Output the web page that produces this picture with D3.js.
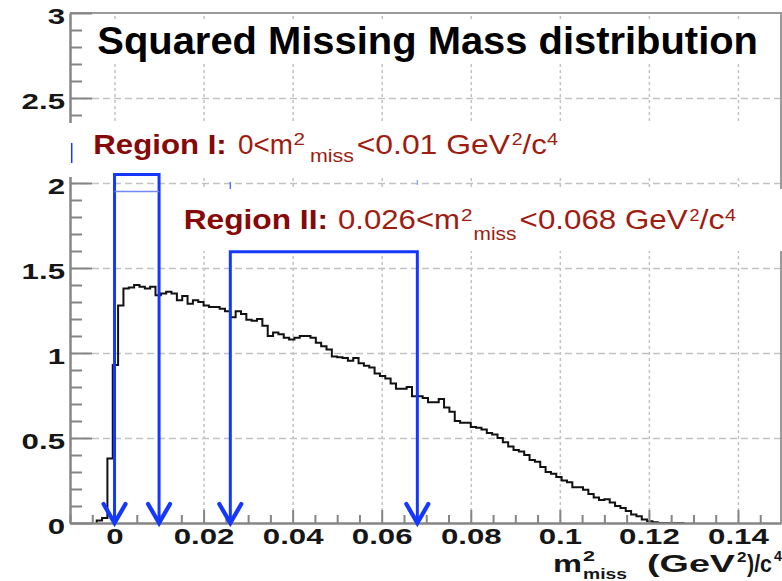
<!DOCTYPE html>
<html>
<head>
<meta charset="utf-8">
<script src="https://cdn.jsdelivr.net/npm/d3@7"></script>
<style>
  html, body { margin: 0; padding: 0; background: #fff; }
  svg { display: block; font-family: "Liberation Sans", Arial, Helvetica, sans-serif; }
</style>
</head>
<body>
<svg id="chart" width="782" height="581"></svg>
<script>
// Squared missing mass histogram (arbitrary normalisation)
const binStart = -0.004;   // GeV^2/c^4, low edge of the first filled bin
const binWidth = 0.0012;   // GeV^2/c^4
const counts = [
  0.015, 0.03, 0.38, 0.93, 1.28, 1.38, 1.385, 1.40, 1.39, 1.38,
  1.39, 1.34, 1.35, 1.36, 1.35, 1.31, 1.335, 1.29, 1.31, 1.30,
  1.28, 1.27, 1.27, 1.26, 1.245, 1.21, 1.245, 1.23, 1.195, 1.19,
  1.20, 1.16, 1.10, 1.12, 1.11, 1.09, 1.08, 1.09, 1.10, 1.10,
  1.09, 1.06, 1.04, 1.02, 0.98, 0.975, 0.97, 0.955, 0.97, 0.94,
  0.925, 0.915, 0.88, 0.865, 0.85, 0.82, 0.79, 0.79, 0.80, 0.745,
  0.745, 0.735, 0.71, 0.71, 0.73, 0.68, 0.655, 0.60, 0.59, 0.59,
  0.565, 0.56, 0.55, 0.53, 0.52, 0.50, 0.475, 0.45, 0.43, 0.42,
  0.40, 0.37, 0.36, 0.33, 0.30, 0.29, 0.27, 0.25, 0.24, 0.21,
  0.21, 0.195, 0.17, 0.15, 0.135, 0.14, 0.12, 0.10, 0.088, 0.07,
  0.05, 0.04, 0.02, 0.01, 0.004, 0, 0, 0, 0, 0
];

const xDomain = [-0.01, 0.15];
const yDomain = [0, 3];
const xMajorTicks = [0, 0.02, 0.04, 0.06, 0.08, 0.1, 0.12, 0.14];
const xTickLabels = ["0", "0.02", "0.04", "0.06", "0.08", "0.1", "0.12", "0.14"];
const yMajorTicks = [0, 0.5, 1, 1.5, 2, 2.5, 3];
const yTickLabels = ["0", "0.5", "1", "1.5", "2", "2.5", "3"];
const yGridValues = [0.5, 1, 1.5, 2, 2.5];

// selection windows
const regionI = [0, 0.01];
const regionITop = 2.05;
const regionIInner = 1.95;
const regionII = [0.026, 0.068];
const regionIITop = 1.595;

const titleText = "Squared Missing Mass distribution";

const svg = d3.select("#chart");
const x = d3.scaleLinear().domain(xDomain).range([70, 782.5]);
const y = d3.scaleLinear().domain(yDomain).range([523, 13]);
const frameRight = 781;

const axisGrey = "#858585";
const gridGrey = "#c2c2c2";
const blue = "#1438ff";
const darkRed = "#860808";
const red = "#9e1c10";
const ink = "#161616";

// ---- grid ----
svg.append("g")
  .attr("transform", `translate(0,${y(0)})`)
  .call(d3.axisBottom(x).tickValues(xMajorTicks).tickSize(-(y(0) - y(3))).tickFormat(""))
  .call(g => g.select(".domain").remove())
  .selectAll("line")
  .attr("stroke", gridGrey).attr("stroke-width", 1.5).attr("stroke-dasharray", "3,3");

svg.append("g")
  .attr("transform", `translate(${x(xDomain[0])},0)`)
  .call(d3.axisLeft(y).tickValues(yGridValues).tickSize(-(frameRight - x(xDomain[0]))).tickFormat(""))
  .call(g => g.select(".domain").remove())
  .selectAll("line")
  .attr("stroke", gridGrey).attr("stroke-width", 1.5).attr("stroke-dasharray", "7,4");

// ---- histogram ----
const pts = [[binStart, 0]];
counts.forEach((c, i) => pts.push([binStart + i * binWidth, c]));
pts.push([binStart + counts.length * binWidth, 0]);
svg.append("path")
  .datum(pts)
  .attr("fill", "none")
  .attr("stroke", "#111")
  .attr("stroke-width", 2)
  .attr("d", d3.line().x(d => x(d[0])).y(d => y(d[1])).curve(d3.curveStepAfter));

// ---- frame ----
svg.append("path")
  .attr("d", `M${x(xDomain[0])},${y(3)}H${frameRight}V${y(0)}`)
  .attr("fill", "none").attr("stroke", "#9a9a9a").attr("stroke-width", 2);

// ---- axes ----
const xMinor = d3.range(-0.01, 0.1501, 0.005).filter(v => !xMajorTicks.some(t => Math.abs(t - v) < 1e-9));
const yMinor = d3.range(0, 3.001, 0.1).filter(v => !yMajorTicks.some(t => Math.abs(t - v) < 1e-9));

function styleAxis(g) {
  g.select(".domain").attr("stroke", axisGrey).attr("stroke-width", 2);
  g.selectAll(".tick line").attr("stroke", axisGrey).attr("stroke-width", 2);
  g.selectAll("text")
    .attr("font-size", 22).attr("font-weight", "bold").attr("fill", ink)
    .attr("font-family", "'Liberation Sans', Arial, Helvetica, sans-serif");
}

const xAxisScale = x.copy().range([70, frameRight]).domain([xDomain[0], x.invert(frameRight)]);
svg.append("g")
  .attr("transform", `translate(0,${y(0)})`)
  .call(d3.axisBottom(xAxisScale).tickValues(xMinor.filter(v => x(v) <= frameRight)).tickSize(-8).tickSizeOuter(0).tickFormat(""))
  .call(styleAxis);
const gx = svg.append("g")
  .attr("transform", `translate(0,${y(0)})`)
  .call(d3.axisBottom(xAxisScale).tickValues(xMajorTicks).tickSize(-13).tickSizeOuter(0).tickPadding(5.5)
    .tickFormat((d, i) => xTickLabels[i]))
  .call(styleAxis);
gx.selectAll("text").attr("transform", "scale(1.42,1)");

svg.append("g")
  .attr("transform", `translate(${x(xDomain[0])},0)`)
  .call(d3.axisLeft(y).tickValues(yMinor).tickSize(-12).tickSizeOuter(0).tickFormat(""))
  .call(styleAxis);
const gy = svg.append("g")
  .attr("transform", `translate(${x(xDomain[0])},0)`)
  .call(d3.axisLeft(y).tickValues(yMajorTicks).tickSize(-22).tickSizeOuter(0).tickPadding(3.5)
    .tickFormat((d, i) => yTickLabels[i]))
  .call(styleAxis);
gy.selectAll("text").attr("transform", "translate(0,3) scale(1.42,1)");

// ---- white label panels ----
const panels = [
  [86, 22, 686, 40],
  [66, 123, 708, 54],
  [168, 189, 614, 62]
];
svg.append("g").selectAll("rect").data(panels).join("rect")
  .attr("x", d => d[0]).attr("y", d => d[1]).attr("width", d => d[2]).attr("height", d => d[3])
  .attr("fill", "#fff");

// ---- labels built from runs, each run fitted between two x positions ----
// run: [string, x0, x1, baseline, fontSize, weight, fill]
function label(runs) {
  const t = svg.append("text");
  runs.forEach(r => {
    t.append("tspan")
      .attr("x", r[1]).attr("y", r[3])
      .attr("font-size", r[4]).attr("font-weight", r[5]).attr("fill", r[6])
      .attr("textLength", r[2] - r[1]).attr("lengthAdjust", "spacingAndGlyphs")
      .text(r[0]);
  });
  return t;
}

label([[titleText, 97.3, 758, 53.5, 39, "bold", "#000"]]);

label([
  ["Region I:", 93.3, 226.7, 153.7, 28, "bold", darkRed],
  ["0<m", 238, 293, 153.7, 28, "normal", red],
  ["2", 293.5, 305, 145, 17, "normal", red],
  ["miss", 310, 354, 161.5, 19, "normal", red],
  ["<0.01 GeV", 356.7, 510, 153.7, 28, "normal", red],
  ["2", 511.7, 522.5, 145, 17, "normal", red],
  ["/c", 522.5, 546.7, 153.7, 28, "normal", red],
  ["4", 547, 558, 145, 17, "normal", red]
]);

label([
  ["Region II:", 183.7, 328, 229, 28, "bold", darkRed],
  ["0.026<m", 338, 460, 229, 28, "normal", red],
  ["2", 461, 472.5, 220.5, 17, "normal", red],
  ["miss", 473.5, 516.5, 240, 19, "normal", red],
  ["<0.068 GeV", 519.6, 687.6, 229, 28, "normal", red],
  ["2", 689.5, 699.5, 220.5, 17, "normal", red],
  ["/c", 699.5, 724.7, 229, 28, "normal", red],
  ["4", 725, 736, 220.5, 17, "normal", red]
]);

label([
  ["m", 553, 582, 571.7, 24, "bold", ink],
  ["2", 583, 595, 561, 15, "bold", ink],
  ["miss", 583, 627, 579, 15, "bold", ink],
  ["(GeV", 647, 735, 572, 24, "bold", ink],
  ["2", 737, 746.5, 562, 14, "bold", ink],
  [")/c", 747, 772, 572, 24, "bold", ink],
  ["4", 774, 782, 561, 15, "bold", ink]
]);

// ---- selection brackets with arrows ----
function bracket(range, top) {
  const g = svg.append("g").attr("fill", "none").attr("stroke", blue);
  g.append("path")
    .attr("d", `M${x(range[0])},${y(0) - 3}V${y(top)}H${x(range[1])}V${y(0) - 3}`)
    .attr("stroke-width", 3).attr("stroke-linecap", "square");
  range.forEach(v => {
    g.append("path")
      .attr("d", `M${x(v) - 11},${y(0) - 19}L${x(v)},${y(0)}L${x(v) + 11},${y(0) - 19}`)
      .attr("stroke-width", 4.2).attr("stroke-linejoin", "miter").attr("stroke-linecap", "round");
  });
  return g;
}
bracket(regionI, regionITop);
svg.append("line")
  .attr("x1", x(regionI[0])).attr("x2", x(regionI[1]))
  .attr("y1", y(regionIInner)).attr("y2", y(regionIInner))
  .attr("stroke", "#7188ff").attr("stroke-width", 1.6);
bracket(regionII, regionIITop);

// leftover blue marks above the label panels
svg.append("line").attr("x1", 71.7).attr("x2", 71.7).attr("y1", 143).attr("y2", 163)
  .attr("stroke", blue).attr("stroke-width", 1.5);
svg.append("line").attr("x1", x(regionII[0])).attr("x2", x(regionII[0])).attr("y1", 182).attr("y2", 189)
  .attr("stroke", "#5b72ff").attr("stroke-width", 1.5);
svg.append("line").attr("x1", x(regionII[1])).attr("x2", x(regionII[1])).attr("y1", 180).attr("y2", 185)
  .attr("stroke", "#9aa9ff").attr("stroke-width", 1.5);
</script>
</body>
</html>
